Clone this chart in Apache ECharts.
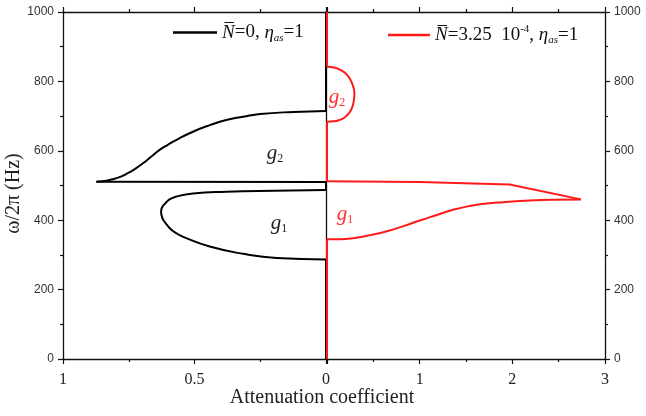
<!DOCTYPE html>
<html>
<head>
<meta charset="utf-8">
<script src="https://cdn.jsdelivr.net/npm/echarts@6/dist/echarts.min.js"></script>
<style>
    html, body { margin: 0; padding: 0; background: #fff; }
    #chart { width: 646px; height: 416px; }
</style>
</head>
<body>
<div id="chart"></div>
<script>
// 衰减系数 - 频率 数据 (left: N=0, right: N=3.25e-4)
const freqTicks = [0, 200, 400, 600, 800, 1000]
const leftTicks = [0, 0.5, 1]
const rightTicks = [0, 1, 2, 3]

// black curves, N = 0
const blackG2Base = [[0, 510], [0.873, 511]]
const blackG2Upper = [[0.873, 511], [0.85, 512], [0.811, 518], [0.785, 524], [0.76, 533], [0.73, 546], [0.696, 564], [0.665, 583], [0.634, 602], [0.6, 618], [0.57, 631], [0.506, 655], [0.442, 674], [0.379, 689], [0.315, 698], [0.251, 706], [0.124, 712], [0, 715]]
const blackG1Loop = [[0, 487], [0.2, 485], [0.379, 482], [0.506, 477], [0.57, 468], [0.595, 460], [0.613, 447], [0.624, 436], [0.627, 425], [0.624, 411], [0.618, 400], [0.594, 377], [0.57, 363], [0.543, 352], [0.442, 324], [0.315, 303], [0.188, 291], [0, 287]]
const blackPass = [[[0, 0], [0, 287]], [[0, 487], [0, 510]], [[0, 715], [0, 1000]]]

// red curves, N = 3.25e-4
const redG2Arc = [[0, 842], [0.075, 840], [0.145, 833], [0.205, 822], [0.25, 806], [0.28, 787], [0.296, 766], [0.29, 745], [0.27, 724], [0.235, 708], [0.19, 696], [0.145, 690], [0.075, 685], [0, 684]]
const redG1Top = [[0, 512], [1.0, 510], [1.97, 503], [2.74, 460]]
const redG1Bottom = [[2.74, 460], [2.44, 459], [2.08, 455], [1.9, 452], [1.72, 448], [1.54, 441], [1.36, 430], [1.185, 415], [1.0, 399], [0.826, 383], [0.647, 368], [0.468, 357], [0.3, 349], [0.145, 345], [0, 345]]
const redPass = [[[0, 0], [0, 345]], [[0, 512], [0, 684]], [[0, 842], [0, 1000]]]

const nameBlack = 'N0'
const nameRed = 'N1'

;(function() {
    let myChart = echarts.init(document.querySelector('#chart'))
    const serif = '"Liberation Serif", "Times New Roman", serif'
    const sans = '"Liberation Sans", Arial, sans-serif'
    const axisLine = { show: true, onZero: false, lineStyle: { color: '#111', width: 1.3 } }
    const axisTick = { show: true, length: 5, lineStyle: { color: '#111', width: 1.2 } }
    const minorTick = { show: true, splitNumber: 2, length: 3, lineStyle: { color: '#111', width: 1.2 } }

    function xAxis(grid, pos, max, interval, inverse, labels) {
        return {
            type: 'value', gridIndex: grid, position: pos, min: 0, max: max, interval: interval,
            inverse: inverse, axisLine: axisLine, axisTick: axisTick, minorTick: minorTick,
            splitLine: { show: false },
            axisLabel: labels ? {
                show: true, margin: 13, fontFamily: serif, fontSize: 16, color: '#222',
                formatter: function(v) { return (grid === 1 && v === 0) ? '' : String(v) }
            } : { show: false }
        }
    }
    function yAxis(grid, pos, labels) {
        return {
            type: 'value', gridIndex: grid, position: pos, min: freqTicks[0],
            max: freqTicks[freqTicks.length - 1], interval: 200,
            axisLine: axisLine,
            axisTick: labels ? axisTick : { show: false },
            minorTick: labels ? minorTick : { show: false },
            splitLine: { show: false },
            axisLabel: labels ? {
                show: true, margin: 9, fontFamily: sans, fontSize: 12, color: '#333',
                formatter: v => String(v)
            } : { show: false }
        }
    }
    function line(name, data, color, grid, smooth) {
        return {
            name: name, type: 'line', data: data, xAxisIndex: grid * 2, yAxisIndex: grid * 2,
            symbol: 'none', smooth: smooth ? 0.5 : false, silent: true,
            lineStyle: { color: color, width: 2 }, itemStyle: { color: color }
        }
    }

    let series = []
    blackPass.forEach(seg => series.push(line(nameBlack, seg, '#000', 0, false)))
    series.push(line(nameBlack, blackG2Base, '#000', 0, false))
    series.push(line(nameBlack, blackG2Upper, '#000', 0, true))
    series.push(line(nameBlack, blackG1Loop, '#000', 0, true))
    redPass.forEach(seg => series.push(line(nameRed, seg, '#ff1a1a', 1, false)))
    series.push(line(nameRed, redG2Arc, '#ff1a1a', 1, true))
    series.push(line(nameRed, redG1Top, '#ff1a1a', 1, false))
    series.push(line(nameRed, redG1Bottom, '#ff1a1a', 1, true))

    const legendRich = {
        n: { fontFamily: serif, fontStyle: 'italic', fontSize: 19, color: '#111', lineHeight: 22 },
        t: { fontFamily: serif, fontSize: 19, color: '#111', lineHeight: 22 },
        sup: { fontFamily: serif, fontSize: 11, color: '#111', lineHeight: 11, verticalAlign: 'top' },
        sub: { fontFamily: serif, fontStyle: 'italic', fontSize: 11, color: '#111', lineHeight: 11, verticalAlign: 'bottom' }
    }
    const gRich = function(color) {
        return {
            g: { fontFamily: serif, fontStyle: 'italic', fontSize: 21, fill: color, lineHeight: 24 },
            s: { fontFamily: serif, fontSize: 12, fill: color, lineHeight: 12, verticalAlign: 'bottom' }
        }
    }
    function gLabel(x, y, idx, color) {
        return {
            type: 'text', x: x, y: y,
            style: { text: '{g|g}{s|' + idx + '}', rich: gRich(color), align: 'center', verticalAlign: 'middle' }
        }
    }

    let option = {
        animation: false,
        grid: [
            { left: 63, top: 12, width: 263, height: 347, containLabel: false, outerBoundsMode: 'none' },
            { left: 327, top: 12, width: 278, height: 347, containLabel: false, outerBoundsMode: 'none' }
        ],
        xAxis: [
            xAxis(0, 'bottom', leftTicks[leftTicks.length - 1], 0.5, true, true),
            xAxis(0, 'top', leftTicks[leftTicks.length - 1], 0.5, true, false),
            xAxis(1, 'bottom', rightTicks[rightTicks.length - 1], 1, false, true),
            xAxis(1, 'top', rightTicks[rightTicks.length - 1], 1, false, false)
        ],
        yAxis: [
            Object.assign(yAxis(0, 'left', true), {
                name: 'ω/2π (Hz)', nameLocation: 'middle', nameGap: 36, nameRotate: 90,
                nameTextStyle: { fontFamily: serif, fontSize: 20, color: '#222', padding: [0, 16, 0, 0] }
            }),
            yAxis(0, 'right', false),
            yAxis(1, 'right', true)
        ],
        legend: [
            {
                data: [{ name: nameBlack, icon: 'rect' }], left: 168, top: 18, itemWidth: 44, itemHeight: 2.5,
                selectedMode: false,
                formatter: () => '{n|N\u0305}{t|=0, }{n|η}{sub|as}{t|=1}',
                textStyle: { rich: legendRich }
            },
            {
                data: [{ name: nameRed, icon: 'rect' }], left: 383, top: 19, itemWidth: 42, itemHeight: 2.5,
                selectedMode: false,
                formatter: () => '{n|N\u0305}{t|=3.25  10}{sup|-4}{t|, }{n|η}{sub|as}{t|=1}',
                textStyle: { rich: legendRich }
            }
        ],
        graphic: [
            gLabel(275, 153, 2, '#222'),
            gLabel(279, 223, 1, '#222'),
            gLabel(337, 97, 2, '#ff3030'),
            gLabel(345, 214, 1, '#ff3030'),
            {
                type: 'text', x: 322, y: 398,
                style: { text: 'Attenuation coefficient', fontFamily: serif, fontSize: 20, fill: '#222', align: 'center', verticalAlign: 'middle' }
            }
        ],
        series: series
    }
    myChart.setOption(option)
})()
</script>
</body>
</html>
